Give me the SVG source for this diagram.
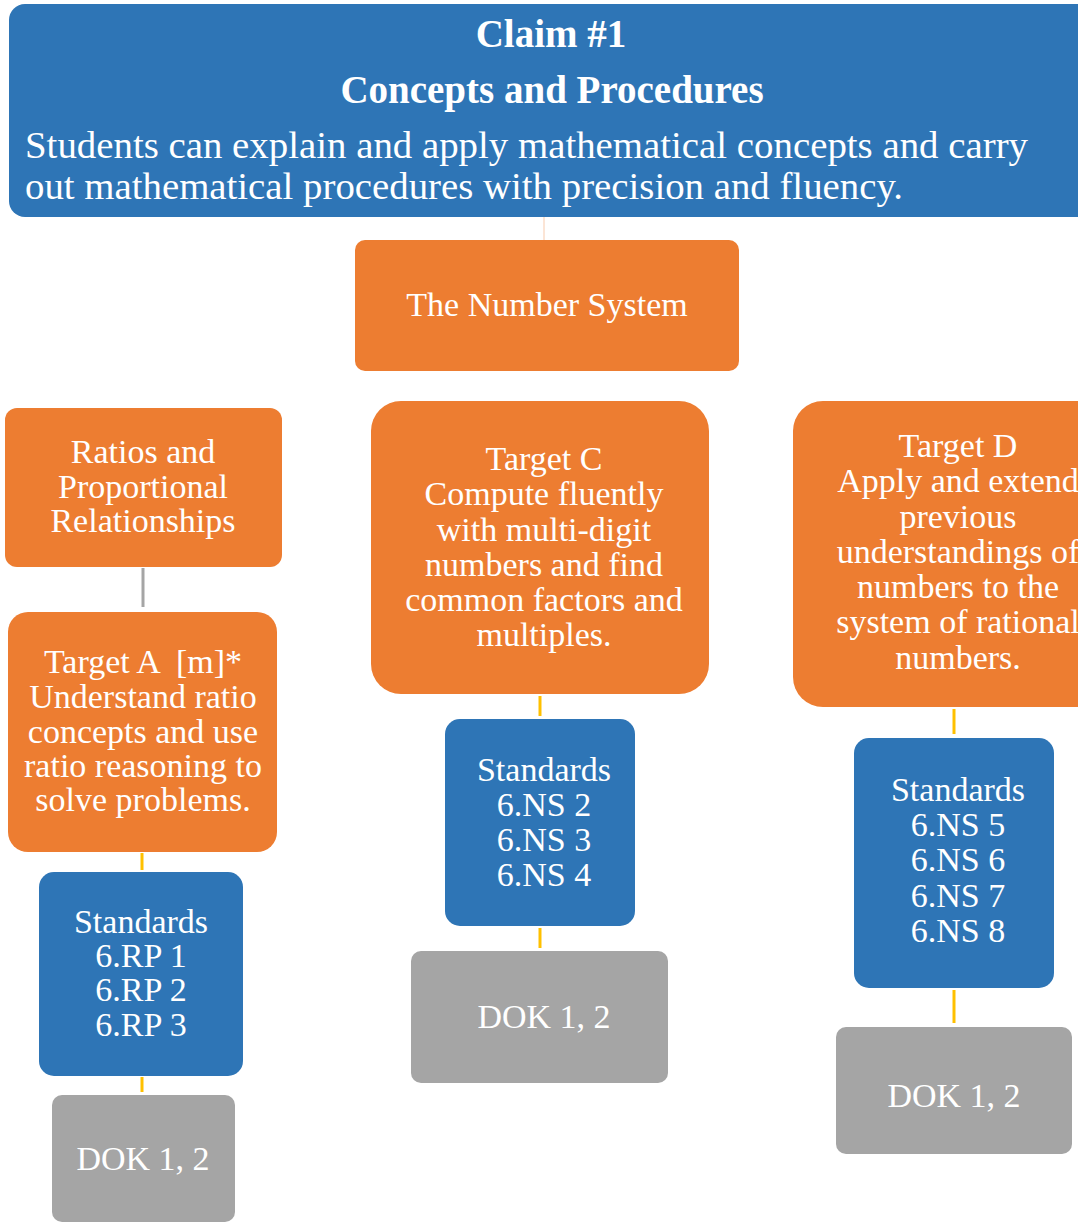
<svg xmlns="http://www.w3.org/2000/svg" width="1078" height="1225" viewBox="0 0 1078 1225">
<style>
.blue{fill:#2E75B6}
.orange{fill:#ED7D31}
.gray{fill:#A5A5A5}
text{font-family:"Liberation Serif","Times New Roman",serif;fill:#fff}
.t{font-size:34px;text-anchor:middle}
.hb{font-size:39px;font-weight:bold;text-anchor:middle}
.hl{font-size:37px}
.y{stroke:#FFC000;stroke-width:3;fill:none}
</style>
<rect width="1078" height="1225" fill="#fff"/>
<g id="connectors">
<line x1="544" y1="208" x2="544" y2="240" stroke="#F8CBAD" stroke-width="1"/>
<line x1="143" y1="568" x2="143" y2="607" stroke="#A5A5A5" stroke-width="3"/>
<line class="y" x1="142" y1="853" x2="142" y2="870"/>
<line class="y" x1="142" y1="1077" x2="142" y2="1092"/>
<line class="y" x1="540" y1="696" x2="540" y2="716"/>
<line class="y" x1="540" y1="928" x2="540" y2="948"/>
<line class="y" x1="954" y1="709" x2="954" y2="734"/>
<line class="y" x1="954" y1="990" x2="954" y2="1023"/>
</g>
<g id="claim">
<rect class="blue" x="9" y="4" width="1090" height="213" rx="16"/>
<text class="hb" x="551" y="47">Claim #1</text>
<text class="hb" x="552" y="103">Concepts and Procedures</text>
<text class="hl" x="25" y="158" textLength="1003" lengthAdjust="spacingAndGlyphs">Students can explain and apply mathematical concepts and carry</text>
<text class="hl" x="25" y="199" textLength="878" lengthAdjust="spacingAndGlyphs">out mathematical procedures with precision and fluency.</text>
</g>
<g id="number-system">
<rect class="orange" x="355" y="240" width="384" height="131" rx="10"/>
<text class="t" x="547" y="316">The Number System</text>
</g>
<g id="ratios">
<rect class="orange" x="5" y="408" width="277" height="159" rx="12"/>
<text class="t" x="143" y="463">Ratios and</text>
<text class="t" x="143" y="498">Proportional</text>
<text class="t" x="143" y="532">Relationships</text>
</g>
<g id="target-a">
<rect class="orange" x="8" y="612" width="269" height="240" rx="20"/>
<text class="t" x="143" y="673" xml:space="preserve">Target A  [m]*</text>
<text class="t" x="143" y="708">Understand ratio</text>
<text class="t" x="143" y="743">concepts and use</text>
<text class="t" x="143" y="777">ratio reasoning to</text>
<text class="t" x="143" y="811">solve problems.</text>
</g>
<g id="standards-a">
<rect class="blue" x="39" y="872" width="204" height="204" rx="15"/>
<text class="t" x="141" y="933">Standards</text>
<text class="t" x="141" y="967">6.RP 1</text>
<text class="t" x="141" y="1001">6.RP 2</text>
<text class="t" x="141" y="1036">6.RP 3</text>
</g>
<g id="dok-a">
<rect class="gray" x="52" y="1095" width="183" height="127" rx="10"/>
<text class="t" x="143" y="1170">DOK 1, 2</text>
</g>
<g id="target-c">
<rect class="orange" x="371" y="401" width="338" height="293" rx="30"/>
<text class="t" x="544" y="470">Target C</text>
<text class="t" x="544" y="505">Compute fluently</text>
<text class="t" x="544" y="541">with multi-digit</text>
<text class="t" x="544" y="576">numbers and find</text>
<text class="t" x="544" y="611">common factors and</text>
<text class="t" x="544" y="646">multiples.</text>
</g>
<g id="standards-c">
<rect class="blue" x="445" y="719" width="190" height="207" rx="15"/>
<text class="t" x="544" y="781">Standards</text>
<text class="t" x="544" y="816">6.NS 2</text>
<text class="t" x="544" y="851">6.NS 3</text>
<text class="t" x="544" y="886">6.NS 4</text>
</g>
<g id="dok-c">
<rect class="gray" x="411" y="951" width="257" height="132" rx="10"/>
<text class="t" x="544" y="1028">DOK 1, 2</text>
</g>
<g id="target-d">
<rect class="orange" x="793" y="401" width="320" height="306" rx="30"/>
<text class="t" x="958" y="457">Target D</text>
<text class="t" x="958" y="492">Apply and extend</text>
<text class="t" x="958" y="528">previous</text>
<text class="t" x="958" y="563">understandings of</text>
<text class="t" x="958" y="598">numbers to the</text>
<text class="t" x="958" y="633">system of rational</text>
<text class="t" x="958" y="669">numbers.</text>
</g>
<g id="standards-d">
<rect class="blue" x="854" y="738" width="200" height="250" rx="15"/>
<text class="t" x="958" y="801">Standards</text>
<text class="t" x="958" y="836">6.NS 5</text>
<text class="t" x="958" y="871">6.NS 6</text>
<text class="t" x="958" y="907">6.NS 7</text>
<text class="t" x="958" y="942">6.NS 8</text>
</g>
<g id="dok-d">
<rect class="gray" x="836" y="1027" width="236" height="127" rx="10"/>
<text class="t" x="954" y="1107">DOK 1, 2</text>
</g>
</svg>
